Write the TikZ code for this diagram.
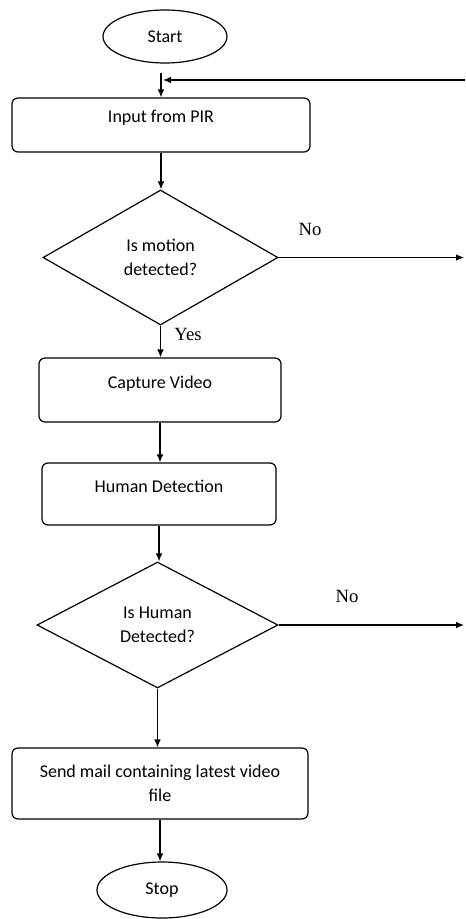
\documentclass[tikz,border=0pt]{standalone}
\usepackage{fontspec}
\setmainfont{Carlito}
\newfontfamily\yesno{Liberation Serif}
\usetikzlibrary{shapes.geometric,arrows.meta}

\begin{document}
\begin{tikzpicture}[x=0.75pt,y=0.75pt,line width=0.9pt,
	font=\fontsize{13.5}{18}\selectfont,
	term/.style={draw,ellipse,inner sep=0pt},
	proc/.style={draw,rounded corners=4.5pt,inner sep=0pt,align=center},
	one/.style={text height=8pt,text depth=11pt},
	dec/.style={draw,diamond,inner sep=0pt,align=center},
	arr/.style={-{Latex[length=6pt,width=5pt]}},
	ans/.style={font=\yesno\fontsize{14}{16}\selectfont}]
	\useasboundingbox (0,0) rectangle (465,-919);
	\node[term,minimum width=93pt,minimum height=39.75pt] (start) at (165,-36.5) {Start}; %start
	\node[proc,one,minimum width=223.5pt,minimum height=40.5pt] (pir) at (161,-125) {Input from PIR};
	\node[dec,minimum width=176.25pt,minimum height=101.25pt] (motion) at (160.5,-257.5) {Is motion\\detected?};
	\node[proc,one,minimum width=181.5pt,minimum height=48pt] (capture) at (160,-390) {Capture Video};
	\node[proc,one,minimum width=175.5pt,minimum height=46.5pt] (human) at (159,-494) {Human Detection};
	\node[dec,minimum width=180.75pt,minimum height=94.5pt] (detected) at (157.5,-625) {Is Human\\Detected?};
	\node[proc,minimum width=222pt,minimum height=53.25pt] (mail) at (160,-783.5) {Send mail containing latest video\\file};
	\node[term,minimum width=97.5pt,minimum height=42pt] (stop) at (162,-890) {Stop}; %stop
	\node[ans] (yes) at (188,-334) {Yes};
	\node[ans] (noa) at (310,-229) {No};
	\node[ans] (nob) at (347,-596) {No};
	\coordinate (back) at (465,-80); %back to PIR
	\coordinate (join) at (163,-80);
	\coordinate (outa) at (464,-257.5);
	\coordinate (outb) at (464,-625);
	\draw[arr,shorten <=6.75pt] (pir.north |- start.south) -- (pir.north);
	\draw[arr] (back) -- (join);
	\draw[arr] (pir.south) -- (pir.south |- motion.north);
	\draw[arr] (motion.east) -- (outa);
	\draw[arr] (motion.south) -- (motion.south |- capture.north);
	\draw[arr] (capture.south) -- (capture.south |- human.north);
	\draw[arr] (human.south) -- (human.south |- detected.north);
	\draw[arr] (detected.east) -- (outb);
	\draw[arr] (detected.south) -- (detected.south |- mail.north);
	\draw[arr] (mail.south) -- (mail.south |- stop.north);
\end{tikzpicture}
\end{document}
